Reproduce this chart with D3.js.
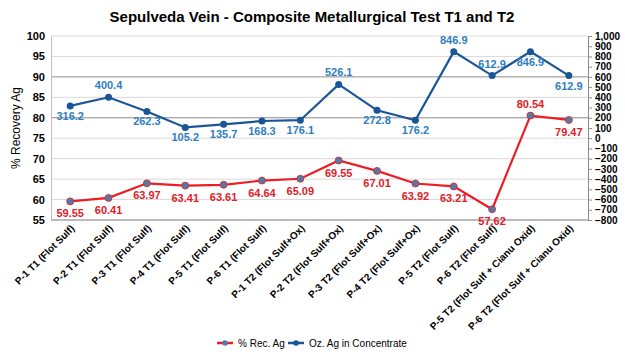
<!DOCTYPE html>
<html><head><meta charset="utf-8">
<script src="https://cdn.jsdelivr.net/npm/d3@7"></script>
<style>body{margin:0;background:#fff;} text{font-family:"Liberation Sans",Arial,sans-serif;}</style>
</head><body>
<svg id="chart" width="625" height="357"></svg>
<script>
const categories = ["P-1 T1 (Flot Sulf)","P-2 T1 (Flot Sulf)","P-3 T1 (Flot Sulf)","P-4 T1 (Flot Sulf)","P-5 T1 (Flot Sulf)","P-6 T1 (Flot Sulf)","P-1 T2 (Flot Sulf+Ox)","P-2 T2 (Flot Sulf+Ox)","P-3 T2 (Flot Sulf+Ox)","P-4 T2 (Flot Sulf+Ox)","P-5 T2 (Flot Sulf)","P-6 T2 (Flot Sulf)","P-5 T2 (Flot Sulf + Cianu Oxid)","P-6 T2 (Flot Sulf + Cianu Oxid)"];
const recAg = [59.55,60.41,63.97,63.41,63.61,64.64,65.09,69.55,67.01,63.92,63.21,57.62,80.54,79.47];
const ozAg = [316.2,400.4,262.3,105.2,135.7,168.3,176.1,526.1,272.8,176.2,846.9,612.9,846.9,612.9];
const recLabelAbove = [0,0,0,0,0,0,0,0,0,0,0,0,1,0];
const ozLabelAbove = [0,1,0,0,0,0,0,1,0,0,1,1,0,0];
const leftTicks = [55,60,65,70,75,80,85,90,95,100];
const rightTicks = [-800,-700,-600,-500,-400,-300,-200,-100,0,100,200,300,400,500,600,700,800,900,1000];

const svg = d3.select("#chart");
const L = 51, R = 588, T = 36, B = 220;
const x = d3.scaleBand().domain(categories).range([L, R]).padding(0);
const cx = d => x(d) + x.bandwidth()/2;
const yL = d3.scaleLinear().domain([55,100]).range([B,T]);
const yR = d3.scaleLinear().domain([-800,1000]).range([B,T]);

const red = "#ee1c25", blue = "#1a5596", redLab = "#e0202a", blueLab = "#2f7ec1";

// title
svg.append("text").attr("x",312).attr("y",22).attr("text-anchor","middle")
  .attr("font-size",15).attr("font-weight","bold").text("Sepulveda Vein - Composite Metallurgical Test T1 and T2");

// gridlines
svg.append("g").selectAll("line").data(leftTicks).join("line")
  .attr("x1",L).attr("x2",R).attr("y1",d=>yL(d)).attr("y2",d=>yL(d))
  .attr("stroke",d=>(d===90||d===80)?"#8c8c8c":"#d9d9d9").attr("stroke-width",1);

// left axis
const gl = svg.append("g").attr("transform",`translate(${L},0)`)
  .call(d3.axisLeft(yL).tickValues(leftTicks).tickSize(0).tickPadding(6));
gl.select(".domain").attr("stroke","#bfbfbf");
gl.selectAll("text").attr("font-size",11).attr("font-weight","bold").attr("fill","#000")
  .style("font-family","'Liberation Sans',Arial,sans-serif");

// right axis
const gr = svg.append("g").attr("transform",`translate(${R},0)`)
  .call(d3.axisRight(yR).tickValues(rightTicks).tickSize(4).tickPadding(3).tickFormat(d3.format(",")));
gr.select(".domain").attr("stroke","#8c8c8c");
gr.selectAll(".tick line").attr("stroke","#8c8c8c");
gr.selectAll("text").attr("font-size",10).attr("font-weight","bold").attr("fill","#000")
  .style("font-family","'Liberation Sans',Arial,sans-serif");

// bottom axis line
svg.append("line").attr("x1",L).attr("x2",R).attr("y1",B).attr("y2",B).attr("stroke","#8c8c8c");

// y label
svg.append("text").attr("transform",`translate(20,${(T+B)/2}) rotate(-90)`).attr("text-anchor","middle")
  .attr("font-size",12).text("% Recovery Ag");

// x labels
svg.append("g").selectAll("text").data(categories).join("text")
  .attr("transform",d=>`translate(${cx(d)+5},${B+9}) rotate(-45)`)
  .attr("text-anchor","end").attr("font-size",10).attr("font-weight","bold").text(d=>d);

// lines
const lineL = d3.line().x((d,i)=>cx(categories[i])).y(d=>yL(d));
const lineR = d3.line().x((d,i)=>cx(categories[i])).y(d=>yR(d));
svg.append("path").attr("d",lineR(ozAg)).attr("fill","none").attr("stroke",blue).attr("stroke-width",2.2);
svg.append("path").attr("d",lineL(recAg)).attr("fill","none").attr("stroke",red).attr("stroke-width",2.2);

svg.append("g").selectAll("circle").data(ozAg).join("circle")
  .attr("cx",(d,i)=>cx(categories[i])).attr("cy",d=>yR(d)).attr("r",3.5).attr("fill",blue);
svg.append("g").selectAll("circle").data(recAg).join("circle")
  .attr("cx",(d,i)=>cx(categories[i])).attr("cy",d=>yL(d)).attr("r",3.5).attr("fill","#4f7ba8").attr("stroke",red).attr("stroke-width",0.8);

// data labels
svg.append("g").selectAll("text").data(ozAg).join("text")
  .attr("x",(d,i)=>cx(categories[i])).attr("y",(d,i)=>yR(d)+(ozLabelAbove[i]?-8:14))
  .attr("text-anchor","middle").attr("font-size",11).attr("font-weight","bold").attr("fill",blueLab)
  .text(d=>d3.format(".1f")(d));
svg.append("g").selectAll("text").data(recAg).join("text")
  .attr("x",(d,i)=>cx(categories[i])).attr("y",(d,i)=>yL(d)+(recLabelAbove[i]?-8:16))
  .attr("text-anchor","middle").attr("font-size",11).attr("font-weight","bold").attr("fill",redLab)
  .text(d=>d3.format(".2f")(d));

// legend
const leg = svg.append("g");
const items = [{name:"% Rec. Ag",c:red,m:"#4f7ba8",x:217},{name:"Oz. Ag in Concentrate",c:blue,m:blue,x:288}];
items.forEach(it=>{
  leg.append("line").attr("x1",it.x).attr("x2",it.x+16).attr("y1",343).attr("y2",343).attr("stroke",it.c).attr("stroke-width",2.5);
  leg.append("circle").attr("cx",it.x+8).attr("cy",343).attr("r",2.8).attr("fill",it.m);
  leg.append("text").attr("x",it.x+21).attr("y",346.5).attr("font-size",10).text(it.name);
});
</script>
</body></html>
